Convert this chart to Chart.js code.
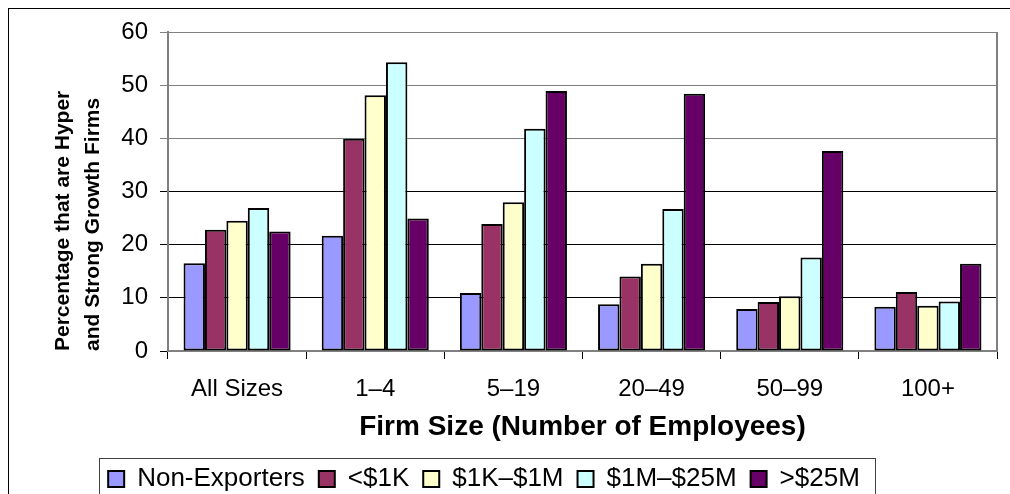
<!DOCTYPE html>
<html>
<head>
<meta charset="utf-8">
<title>Hyper and Strong Growth Firms by Firm Size</title>
<script src="https://cdn.jsdelivr.net/npm/chart.js@4.4.1/dist/chart.umd.min.js"></script>
<style>
  html, body { margin: 0; padding: 0; background: #fff; overflow: hidden; width: 1010px; height: 494px; }
  .chart-frame { position: absolute; left: 8px; top: 8px; width: 1100px; height: 600px; border: 1px solid #000; box-sizing: border-box; }
  #growthChart { position: absolute; left: -29px; top: 0; }
</style>
</head>
<body>
<div class="chart-frame"></div>
<canvas id="growthChart" width="1050" height="502"></canvas>
<script>
"use strict";

const sizeLabels = ["All Sizes", "1\u20134", "5\u201319", "20\u201349", "50\u201399", "100+"];
const seriesNames = ["Non-Exporters", "<$1K", "$1K\u2013$1M", "$1M\u2013$25M", ">$25M"];
const nonExporters = [16.5, 21.7, 10.9, 8.8, 7.9, 8.3];
const under1K = [22.8, 39.9, 23.9, 14.0, 9.2, 11.1];
const from1Kto1M = [24.5, 48.1, 28.0, 16.4, 10.3, 8.5];
const from1Mto25M = [26.9, 54.3, 41.8, 26.7, 17.6, 9.3];
const over25M = [22.5, 24.9, 48.9, 48.4, 37.6, 16.4];
const yTicks = [0, 10, 20, 30, 40, 50, 60];

const seriesValues = [nonExporters, under1K, from1Kto1M, from1Mto25M, over25M];
const seriesColors = ["#9999FF", "#993366", "#FFFFCC", "#CCFFFF", "#660066"];

Chart.defaults.font.family = "'Liberation Sans', Arial, sans-serif";
Chart.defaults.color = "#000000";

// right border of the plot area
const plotFrame = {
  id: "plotFrame",
  beforeDatasetsDraw: (chart) => {
    const { ctx, chartArea: { top, right, bottom } } = chart;
    ctx.save();
    ctx.strokeStyle = "#808080";
    ctx.lineWidth = 2;
    ctx.beginPath();
    ctx.moveTo(right, bottom);
    ctx.lineTo(right, top);
    ctx.stroke();
    ctx.restore();
  },
};

// box round the legend
const legendFrame = {
  id: "legendFrame",
  afterDraw: (chart) => {
    const boxes = chart.legend.legendHitBoxes;
    if (!boxes || !boxes.length) return;
    const ctx = chart.ctx;
    const first = boxes[0];
    const last = boxes[boxes.length - 1];
    const left = Math.round(first.left - 9);
    const right = Math.round(last.left + last.width + 15);
    const top = Math.round(chart.legend.top + 6);
    ctx.save();
    ctx.strokeStyle = "#404040";
    ctx.lineWidth = 1;
    ctx.strokeRect(left + 0.5, top + 0.5, right - left, chart.height);
    ctx.restore();
  },
};

const ctx = document.getElementById("growthChart");

new Chart(ctx, {
  type: "bar",
  data: {
    labels: sizeLabels,
    datasets: seriesNames.map((name, i) => ({
      label: name,
      data: seriesValues[i],
      backgroundColor: seriesColors[i],
      borderColor: "#000000",
      borderWidth: 2,
      borderSkipped: false,
      categoryPercentage: 0.775,
      barPercentage: 1,
    })),
  },
  options: {
    responsive: false,
    animation: false,
    layout: {
      padding: { top: 32, left: 0, right: 24, bottom: 0 },
    },
    plugins: {
      tooltip: { enabled: false },
      legend: {
        position: "bottom",
        labels: {
          boxWidth: 16,
          boxHeight: 16,
          padding: 14,
          font: { size: 26 },
          color: "#000000",
        },
      },
    },
    scales: {
      x: {
        grid: {
          display: true,
          drawOnChartArea: false,
          offset: true,
          tickLength: 8,
          color: "#000000",
        },
        border: { color: "#808080", width: 2 },
        ticks: {
          font: { size: 24 },
          padding: 16,
          color: "#000000",
          maxRotation: 0,
          autoSkip: false,
        },
        title: {
          display: true,
          text: "Firm Size (Number of Employees)",
          font: { size: 28, weight: "bold" },
          color: "#000000",
          padding: { top: 0, bottom: 8 },
        },
        afterFit: (scale) => {
          scale.height = 101;
        },
      },
      y: {
        min: yTicks[0],
        max: yTicks[yTicks.length - 1],
        afterBuildTicks: (scale) => {
          scale.ticks = yTicks.map((v) => ({ value: v }));
        },
        ticks: {
          font: { size: 24 },
          padding: 12,
          color: "#000000",
        },
        grid: {
          color: (c) => (c.tick && c.tick.value >= 40 ? "#808080" : "#000000"),
          tickLength: 8,
        },
        border: { color: "#808080", width: 2 },
        title: {
          display: true,
          text: ["Percentage that are Hyper", "and Strong Growth Firms"],
          align: "start",
          font: { size: 21, weight: "bold", lineHeight: 30 / 21 },
          color: "#000000",
          padding: { top: 77, bottom: 0 },
        },
        afterFit: (scale) => {
          scale.width = 197;
        },
      },
    },
  },
  plugins: [plotFrame, legendFrame],
});
</script>
</body>
</html>
